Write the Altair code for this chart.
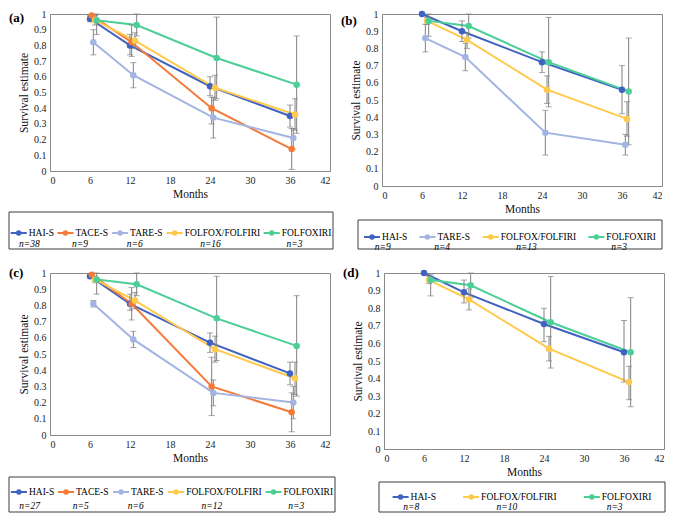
import altair as alt
import pandas as pd

MONTHS = [6, 12, 24, 36]
SERIES = ["HAI-S", "TACE-S", "TARE-S", "FOLFOX/FOLFIRI", "FOLFOXIRI"]
COLORS = ["#4063C2", "#F57A38", "#A3B4E3", "#FFC94B", "#4BCF96"]
X_SHIFT = {"HAI-S": 0.0, "TACE-S": 0.25, "TARE-S": 0.5, "FOLFOX/FOLFIRI": 0.75, "FOLFOXIRI": 1.0}

# ---- panel (a)
A_SERIES = ["HAI-S", "TACE-S", "TARE-S", "FOLFOX/FOLFIRI", "FOLFOXIRI"]
A_N = [38, 9, 6, 16, 3]
A_SURV = [[0.97, 0.80, 0.54, 0.35], [0.99, 0.82, 0.40, 0.14], [0.82, 0.61, 0.34, 0.21],
          [0.96, 0.83, 0.53, 0.36], [0.96, 0.93, 0.72, 0.55]]
A_LOW = [[0.95, 0.74, 0.48, 0.28], [0.99, 0.73, 0.30, 0.01], [0.74, 0.53, 0.21, 0.14],
         [0.93, 0.78, 0.45, 0.26], [0.87, 0.86, 0.46, 0.24]]
A_HIGH = [[0.99, 0.87, 0.60, 0.42], [0.99, 0.93, 0.47, 0.27], [0.90, 0.69, 0.47, 0.27],
          [0.99, 0.88, 0.61, 0.46], [1.00, 1.00, 0.98, 0.86]]

# ---- panel (b)
B_SERIES = ["HAI-S", "TARE-S", "FOLFOX/FOLFIRI", "FOLFOXIRI"]
B_N = [9, 4, 13, 3]
B_SURV = [[1.00, 0.90, 0.72, 0.56], [0.86, 0.75, 0.31, 0.24],
          [0.96, 0.85, 0.56, 0.39], [0.96, 0.93, 0.72, 0.55]]
B_LOW = [[1.00, 0.84, 0.66, 0.42], [0.78, 0.67, 0.18, 0.18],
         [0.94, 0.80, 0.48, 0.29], [0.87, 0.86, 0.46, 0.24]]
B_HIGH = [[1.00, 0.96, 0.78, 0.70], [0.94, 0.83, 0.44, 0.30],
          [0.98, 0.89, 0.64, 0.49], [1.00, 1.00, 0.98, 0.86]]

# ---- panel (c)
C_SERIES = ["HAI-S", "TACE-S", "TARE-S", "FOLFOX/FOLFIRI", "FOLFOXIRI"]
C_N = [27, 5, 6, 12, 3]
C_SURV = [[0.98, 0.81, 0.57, 0.38], [0.99, 0.81, 0.30, 0.14], [0.81, 0.59, 0.26, 0.20],
          [0.96, 0.83, 0.53, 0.35], [0.96, 0.93, 0.72, 0.55]]
C_LOW = [[0.97, 0.77, 0.51, 0.31], [0.99, 0.71, 0.12, 0.02], [0.79, 0.54, 0.18, 0.10],
         [0.94, 0.78, 0.45, 0.25], [0.87, 0.86, 0.46, 0.24]]
C_HIGH = [[0.99, 0.87, 0.63, 0.45], [0.99, 0.91, 0.48, 0.26], [0.83, 0.64, 0.34, 0.30],
          [0.98, 0.88, 0.61, 0.45], [1.00, 1.00, 0.98, 0.86]]

# ---- panel (d)
D_SERIES = ["HAI-S", "FOLFOX/FOLFIRI", "FOLFOXIRI"]
D_N = [8, 10, 3]
D_SURV = [[1.00, 0.89, 0.71, 0.55], [0.96, 0.85, 0.57, 0.38], [0.96, 0.93, 0.72, 0.55]]
D_LOW = [[1.00, 0.83, 0.61, 0.38], [0.94, 0.79, 0.50, 0.28], [0.87, 0.86, 0.46, 0.24]]
D_HIGH = [[1.00, 0.96, 0.80, 0.73], [0.98, 0.91, 0.64, 0.47], [0.99, 1.00, 0.98, 0.86]]

FONT = "Liberation Serif"
GRAY = "#808080"
COLOR_SCALE = alt.Scale(domain=SERIES, range=COLORS)

# Times / Liberation Serif advance widths (em), used to space legend entries
CHAR_EM = {"H": 0.722, "A": 0.722, "I": 0.333, "-": 0.333, "S": 0.556, "T": 0.611,
           "C": 0.667, "E": 0.611, "R": 0.667, "F": 0.556, "O": 0.722, "L": 0.611,
           "X": 0.722, "/": 0.278}


def text_w(s, size):
    return sum(CHAR_EM.get(c, 0.6) for c in s) * size


def panel_df(series, surv, low, high):
    rows = []
    for s, ys, los, his in zip(series, surv, low, high):
        for m, y, lo, hi in zip(MONTHS, ys, los, his):
            rows.append({"series": s, "x": m + X_SHIFT[s], "surv": y, "lo": lo, "hi": hi})
    return pd.DataFrame(rows)


def legend_layers(series, ns, w, box, name_dy, n_dy):
    """Legend drawn below the plot, in pixel units of an independent x scale."""
    bx0, bx1, by0, by1 = box
    sym, gap, fs = 16, 2, 9.5
    widths = [sym + gap + text_w(s, fs) for s in series]
    slot_gap = (bx1 - bx0 - sum(widths)) / len(series)
    rows = []
    cur = bx0 + slot_gap / 2
    for s, n, ew in zip(series, ns, widths):
        rows.append({"series": s, "n": f"n={n}", "x0": cur, "x1": cur + sym,
                     "xm": cur + sym / 2, "xt": cur + sym + gap, "xn": cur + ew / 2 - 3})
        cur += ew + slot_gap
    df = pd.DataFrame(rows)
    sc = alt.Scale(domain=[0, w], nice=False, zero=False)
    color = alt.Color("series:N", scale=COLOR_SCALE, legend=None)
    base = alt.Chart(df)
    ny = by0 + name_dy
    frame = alt.Chart(pd.DataFrame({"k": [0]})).mark_rect(
        fill="transparent", stroke="#3c3c3c", strokeWidth=1).encode(
        x=alt.value(bx0), x2=alt.value(bx1), y=alt.value(by0), y2=alt.value(by1))
    seg = base.mark_rule(strokeWidth=2).encode(
        x=alt.X("x0:Q", scale=sc, axis=None), x2="x1:Q", y=alt.value(ny), color=color)
    dot = base.mark_point(filled=True, size=30, opacity=1).encode(
        x=alt.X("xm:Q", scale=sc, axis=None), y=alt.value(ny), color=color)
    names = base.mark_text(align="left", baseline="middle", font=FONT, fontSize=fs,
                           color="black").encode(
        x=alt.X("xt:Q", scale=sc, axis=None), y=alt.value(ny), text="series:N")
    nlab = base.mark_text(align="center", baseline="middle", font=FONT, fontSize=fs,
                          fontStyle="italic", color="black").encode(
        x=alt.X("xn:Q", scale=sc, axis=None), y=alt.value(by0 + n_dy), text="n:N")
    return [frame, seg, dot, names, nlab]


def panel(label, label_dy, series, ns, surv, low, high, w, h, box, name_dy, n_dy):
    df = panel_df(series, surv, low, high)
    base = alt.Chart(df)
    x = alt.X("x:Q", scale=alt.Scale(domain=[0, 42], nice=False, zero=False),
              axis=alt.Axis(values=[0, 6, 12, 18, 24, 30, 36, 42], title="Months",
                            grid=False, ticks=False, labelPadding=4, titlePadding=3))
    yaxis = alt.Axis(values=[i / 10 for i in range(11)], format="~g", title="Survival estimate",
                     grid=False, ticks=False, labelPadding=4, titlePadding=4)
    yscale = alt.Scale(domain=[0, 1], nice=False)
    color = alt.Color("series:N", scale=COLOR_SCALE, legend=None)

    lines = base.mark_line(strokeWidth=2).encode(
        x=x, y=alt.Y("surv:Q", scale=yscale, axis=yaxis), color=color, order="x:Q")
    bars = base.mark_rule(color=GRAY, strokeWidth=1).encode(
        x=x, y=alt.Y("lo:Q", scale=yscale, axis=yaxis), y2="hi:Q")
    cap_lo = base.mark_tick(color=GRAY, orient="horizontal", size=6, thickness=1).encode(
        x=x, y=alt.Y("lo:Q", scale=yscale, axis=yaxis))
    cap_hi = base.mark_tick(color=GRAY, orient="horizontal", size=6, thickness=1).encode(
        x=x, y=alt.Y("hi:Q", scale=yscale, axis=yaxis))
    pts = base.mark_point(filled=True, size=42, opacity=1).encode(
        x=x, y=alt.Y("surv:Q", scale=yscale, axis=yaxis), color=color)
    plot = alt.layer(lines, bars, cap_lo, cap_hi, pts)

    lab = alt.Chart(pd.DataFrame({"t": [label]})).mark_text(
        align="left", baseline="middle", font=FONT, fontSize=13, fontWeight="bold",
        color="black").encode(x=alt.value(-41), y=alt.value(label_dy), text="t:N")

    legend = legend_layers(series, ns, w, box, name_dy, n_dy)
    return alt.layer(plot, lab, *legend).resolve_scale(x="independent").properties(
        width=w, height=h)


PW = 280
HA, HB, HC, HD = 157, 172, 162, 176

pa = panel("(a)", 4, A_SERIES, A_N, A_SURV, A_LOW, A_HIGH, PW, HA,
           (-41, PW + 3, HA + 41, HA + 78), 21, 32)
pb = panel("(b)", 7, B_SERIES, B_N, B_SURV, B_LOW, B_HIGH, PW, HB,
           (-24, PW, HB + 34, HB + 63), 17, 27)
pc = panel("(c)", 0, C_SERIES, C_N, C_SURV, C_LOW, C_HIGH, PW, HC,
           (-41, PW + 5, HC + 42, HC + 77), 15, 29)
pd_ = panel("(d)", 0, D_SERIES, D_N, D_SURV, D_LOW, D_HIGH, PW, HD,
            (-5, PW + 1, HD + 33, HD + 63), 15, 25)

row1 = alt.hconcat(pa, pb, spacing=6)
row2 = alt.hconcat(pc, pd_, spacing=6)

chart = alt.vconcat(row1, row2, spacing=14).properties(padding=0).configure_view(
    stroke="#8a8a8a", strokeWidth=1
).configure_axis(
    labelFont=FONT, titleFont=FONT, labelFontSize=10, titleFontSize=11.5,
    labelColor="#222222", titleColor="#111111", titleFontWeight="normal",
    domainColor="#8a8a8a"
)

chart.save("out.html", embed_options={"renderer": "svg", "actions": False})
